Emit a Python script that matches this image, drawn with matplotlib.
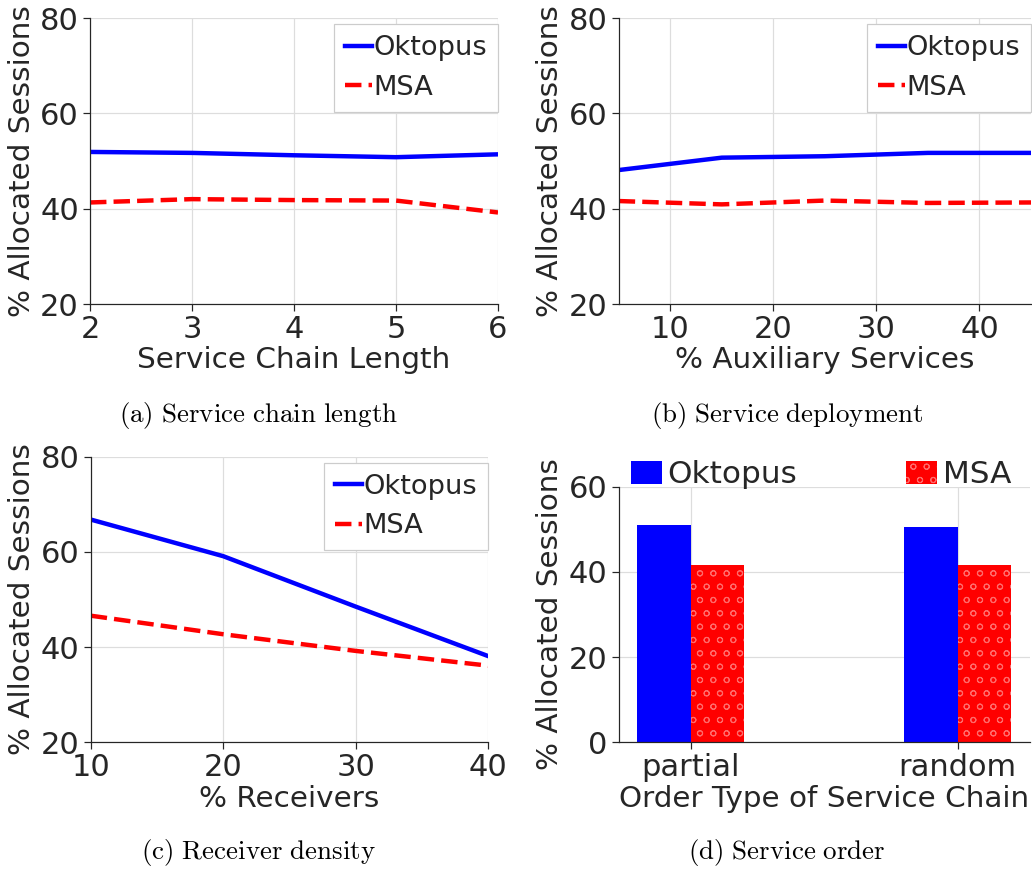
import matplotlib
matplotlib.use("Agg")
import matplotlib.pyplot as plt
import numpy as np

plt.rcParams['font.family'] = ['DejaVu Sans']
plt.rcParams['mathtext.fontset'] = 'cm'
plt.rcParams['hatch.linewidth'] = 0.9

# ---- data ----
chain_len = [2, 3, 4, 5, 6]
chain_okt = [51.9, 51.7, 51.2, 50.8, 51.4]
chain_msa = [41.3, 42.0, 41.8, 41.7, 39.2]

aux = [5, 15, 25, 35, 45]
aux_okt = [48.1, 50.7, 51.0, 51.7, 51.7]
aux_msa = [41.6, 40.9, 41.7, 41.2, 41.3]

recv = [10, 20, 30, 40]
recv_okt = [66.8, 59.1, 48.5, 38.1]
recv_msa = [46.6, 42.7, 39.2, 36.1]

order_types = ["partial", "random"]
order_okt = [51.0, 50.5]
order_msa = [41.6, 41.6]

series_names = ["Oktopus", "MSA"]
captions = [r"$\mathrm{(a)\ Service\ chain\ length}$",
            r"$\mathrm{(b)\ Service\ deployment}$",
            r"$\mathrm{(c)\ Receiver\ density}$",
            r"$\mathrm{(d)\ Service\ order}$"]

TXT = '#262626'
GRID = '#dddddd'
TICK_FS = 27.5
LAB_FS = 26.5
LEG_FS = 24.5
LW = 4.0

fig = plt.figure(figsize=(12.9, 10.9), dpi=80)
W, H = 1032, 872

def axes_px(l, t, r, b):
    return fig.add_axes([l / W, 1 - b / H, (r - l) / W, (b - t) / H])

def style(ax):
    for s in ['top', 'right']:
        ax.spines[s].set_visible(False)
    for s in ['left', 'bottom']:
        ax.spines[s].set_color(TXT)
        ax.spines[s].set_linewidth(1.1)
    ax.grid(True, color=GRID, linewidth=1.1)
    ax.set_axisbelow(True)
    ax.tick_params(axis='both', labelsize=TICK_FS, colors=TXT, length=6,
                   width=1.1, pad=4)

def line_panel(ax, x, y1, y2, xlabel, xlim, xticks):
    style(ax)
    ax.plot(x, y1, color='blue', lw=LW, label=series_names[0])
    ax.plot(x, y2, color='red', lw=LW, ls='--', label=series_names[1])
    ax.set_xlim(*xlim)
    ax.set_xticks(xticks)
    ax.set_ylim(20, 80)
    ax.set_yticks([20, 40, 60, 80])
    ax.set_xlabel(xlabel, fontsize=LAB_FS, color=TXT, labelpad=2)
    ax.set_ylabel("% Allocated Sessions", fontsize=LAB_FS, color=TXT, labelpad=4)
    leg = ax.legend(loc='upper right', bbox_to_anchor=(1.0, 0.978), borderaxespad=0,
                    fontsize=LEG_FS, handlelength=1.0, handletextpad=0.05,
                    fancybox=False, framealpha=1, edgecolor='#cccccc',
                    borderpad=0.4, labelspacing=0.5)
    for t in leg.get_texts():
        t.set_color(TXT)
    leg.get_frame().set_linewidth(1.1)

axA = axes_px(90, 18, 498, 304)
line_panel(axA, chain_len, chain_okt, chain_msa, "Service Chain Length", (2, 6), chain_len)

axB = axes_px(618.7, 18, 1031, 304)
line_panel(axB, aux, aux_okt, aux_msa, "% Auxiliary Services", (5, 45), [10, 20, 30, 40])

axC = axes_px(90.7, 456.7, 488.3, 742.3)
line_panel(axC, recv, recv_okt, recv_msa, "% Receivers", (10, 40), recv)

axD = axes_px(618.7, 486.7, 1029.7, 742.3)
style(axD)
xpos = np.arange(len(order_types))
bw = 0.2
axD.bar(xpos - bw / 2, order_okt, width=bw, color='blue', linewidth=0,
        label=series_names[0])
axD.bar(xpos + bw / 2, order_msa, width=bw, color='red', edgecolor='#ff6a6a',
        linewidth=0, hatch='o', label=series_names[1])
axD.set_xlim(-0.27, 1.27)
axD.set_ylim(0, 60)
axD.set_yticks([0, 20, 40, 60])
axD.set_xticks(xpos)
axD.set_xticklabels(order_types)
axD.set_xlabel("Order Type of Service Chain", fontsize=LAB_FS, color=TXT, labelpad=2)
axD.set_ylabel("% Allocated Sessions", fontsize=LAB_FS, color=TXT, labelpad=4)
legD = axD.legend(loc='lower left', bbox_to_anchor=(12 / 411, 0.99),
                  ncol=2, frameon=False, fontsize=28,
                  handlelength=1.0, handleheight=0.75, handletextpad=0.19,
                  columnspacing=3.5, borderpad=0, borderaxespad=0)
for t in legD.get_texts():
    t.set_color(TXT)

cap_fs = 24.3
fig.text(259 / W, 1 - 415 / H, captions[0], ha='center', va='center', fontsize=cap_fs)
fig.text(787 / W, 1 - 415 / H, captions[1], ha='center', va='center', fontsize=cap_fs)
fig.text(259 / W, 1 - 853 / H, captions[2], ha='center', va='center', fontsize=cap_fs)
fig.text(787 / W, 1 - 853 / H, captions[3], ha='center', va='center', fontsize=cap_fs)

fig.savefig("out.png", dpi=80)
